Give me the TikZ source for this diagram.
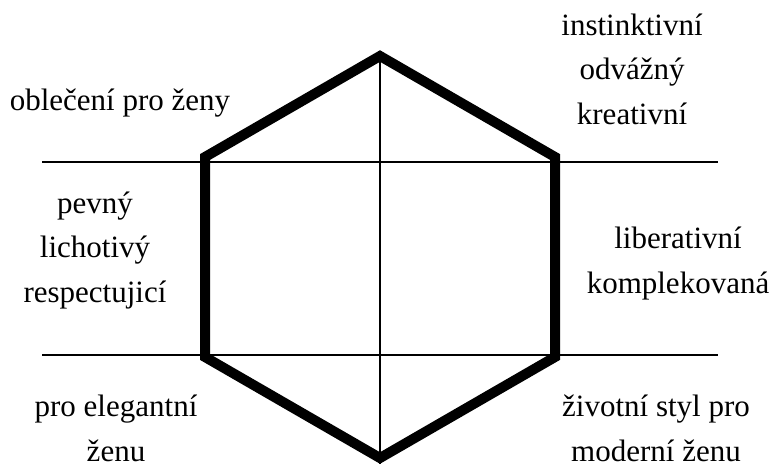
\documentclass[tikz,border=0pt]{standalone}
\usepackage{fontspec}
\setmainfont{Liberation Serif}
\begin{document}
\begin{tikzpicture}[x=1pt,y=-1pt,
  hexedge/.style={line width=10pt,line join=miter},
  thin/.style={line width=1.6pt},
  lbl/.style={align=center,font=\fontsize{31}{44.5}\selectfont,inner sep=0pt,anchor=base}]
\useasboundingbox (0,0) rectangle (775,464);
\coordinate (T) at (380,56);
\coordinate (UR) at (555,157);
\coordinate (LR) at (555,357);
\coordinate (B) at (380,458);
\coordinate (LL) at (205,357);
\coordinate (UL) at (205,157);
\coordinate (H1a) at (42,162);
\coordinate (H1b) at (718,162);
\coordinate (H2a) at (42,355);
\coordinate (H2b) at (718,355);
\coordinate (Vb) at (380,464);
\draw[thin] (H1a) -- (H1b);
\draw[thin] (H2a) -- (H2b);
\draw[thin] (T) -- (Vb);
\draw[hexedge] (T) -- (UR) -- (LR) -- (B) -- (LL) -- (UL) -- cycle;
% base anchor = baseline of the last line
\node[lbl] (a) at (120,110) {oblečení pro ženy};
\node[lbl] (b) at (632,124) {instinktivní\\odvážný\\kreativní};
\node[lbl] (c) at (95,302) {pevný\\lichotivý\\respectujicí};
\node[lbl] (d) at (678,293) {liberativní\\komplekovaná};
\node[lbl] (e) at (116,461) {pro elegantní\\ženu};
\node[lbl] (f) at (656,461) {životní styl pro\\moderní ženu};
\end{tikzpicture}
\end{document}
